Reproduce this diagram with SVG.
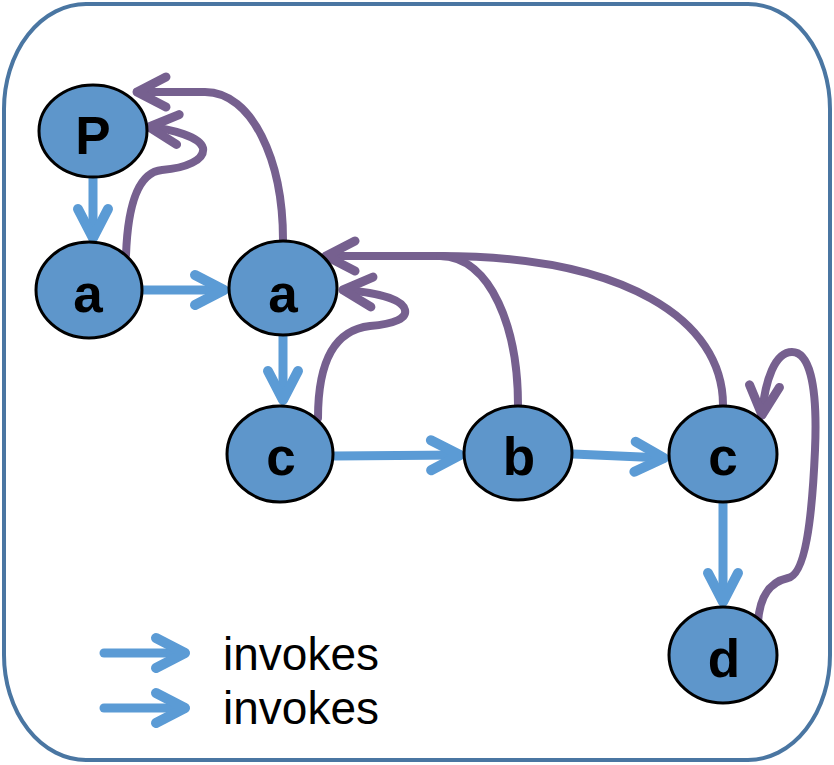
<svg xmlns="http://www.w3.org/2000/svg" width="834" height="765" viewBox="0 0 834 765">
<style>
.node{fill:#5E96CB;stroke:#000;stroke-width:3}
.lbl{font-family:"Liberation Sans",Arial,sans-serif;font-weight:bold;font-size:53px;fill:#000;text-anchor:middle}
.inv{fill:none;stroke:#5B9BD5;stroke-width:9;stroke-linecap:round;marker-end:url(#ab)}
.ret{fill:none;stroke:#76608F;stroke-width:8;stroke-linecap:round;marker-end:url(#ap)}
.leg{font-family:"Liberation Sans",Arial,sans-serif;font-size:46px;fill:#000}
</style>
<defs>
<marker id="ab" markerUnits="userSpaceOnUse" viewBox="-40 -20 50 40" refX="0" refY="0" markerWidth="50" markerHeight="40" orient="auto" overflow="visible">
<path d="M-29,-15 L0,0 L-29,15" fill="none" stroke="#5B9BD5" stroke-width="10" stroke-linecap="round" stroke-linejoin="round"/>
</marker>
<marker id="ap" markerUnits="userSpaceOnUse" viewBox="-40 -20 50 40" refX="0" refY="0" markerWidth="50" markerHeight="40" orient="auto" overflow="visible">
<path d="M-29,-15 L0,0 L-29,15" fill="none" stroke="#76608F" stroke-width="9" stroke-linecap="round" stroke-linejoin="round"/>
</marker>
</defs>
<rect x="4" y="4" width="826" height="756" rx="82" ry="105" fill="#fff" stroke="#4A76A2" stroke-width="4"/>
<g id="connectors">
<path class="inv" d="M93,178 L93,238"/>
<path class="inv" d="M143,290 L224,290"/>
<path class="inv" d="M283,336 L283,400"/>
<path class="inv" d="M334,456 L460,455"/>
<path class="inv" d="M573,454 L664,458"/>
<path class="inv" d="M723,503 L723,602"/>
<path class="ret" d="M126,255 C128,200 140,172 162,170 C186,168 205,160 203,148 C200,137 172,129 149,127"/>
<path class="ret" d="M283,240 C283,160 252,92 205,92 L137,92"/>
<path class="ret" d="M318,418 C318,360 335,330 370,326 C395,324 407,318 405,310 C402,298 372,292 343,290"/>
<path class="ret" d="M518,405 C518,330 492,257 440,256 L326,256"/>
<path class="ret" d="M723,405 C723,320 625,256 440,256" style="marker-end:none"/>
<path class="ret" d="M758,622 C760,595 770,582 788,578 C805,575 812,520 815,450 C818,380 808,352 792,352 C775,352 765,380 762,415"/>
</g>
<g id="node-P"><ellipse class="node" cx="93" cy="131" rx="54" ry="46"/><text class="lbl" x="93" y="154">P</text></g>
<g id="node-a1"><ellipse class="node" cx="89" cy="290" rx="53" ry="48"/><text class="lbl" x="88" y="312">a</text></g>
<g id="node-a2"><ellipse class="node" cx="283" cy="288" rx="54" ry="47"/><text class="lbl" x="283" y="312">a</text></g>
<g id="node-c1"><ellipse class="node" cx="280" cy="454" rx="53" ry="48"/><text class="lbl" x="281" y="475">c</text></g>
<g id="node-b"><ellipse class="node" cx="518" cy="453" rx="54" ry="47"/><text class="lbl" x="519" y="475">b</text></g>
<g id="node-c2"><ellipse class="node" cx="723" cy="454" rx="54" ry="48"/><text class="lbl" x="723" y="475">c</text></g>
<g id="node-d"><ellipse class="node" cx="723" cy="655" rx="54" ry="48"/><text class="lbl" x="724" y="677">d</text></g>
<g id="legend">
<path class="inv" d="M104,653 L185,653"/>
<path class="inv" d="M104,708 L185,708"/>
<text class="leg" x="223" y="670">invokes</text>
<text class="leg" x="223" y="724">invokes</text>
</g>
</svg>
